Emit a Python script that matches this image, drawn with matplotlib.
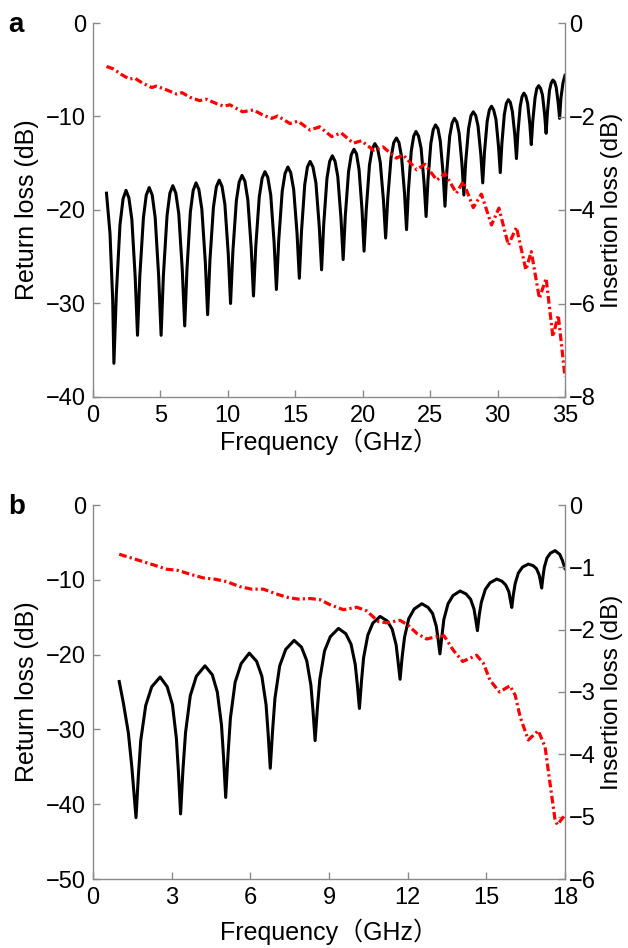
import matplotlib
matplotlib.use('Agg')
import matplotlib.pyplot as plt

# ---- panel a: return loss (left axis, dB) ----
freq_rl_a = [1.0, 1.26, 1.46, 1.55, 1.73, 2.0, 2.23, 2.45, 2.66, 2.88, 3.13,
             3.3, 3.47, 3.74, 3.95, 4.17, 4.39, 4.61, 4.87,
             5.05, 5.22, 5.49, 5.7, 5.92, 6.14, 6.36, 6.62,
             6.8, 6.97, 7.22, 7.43, 7.64, 7.85, 8.07, 8.33,
             8.5, 8.67, 8.93, 9.15, 9.36, 9.57, 9.78, 10.03,
             10.2, 10.37, 10.63, 10.84, 11.05, 11.26, 11.48, 11.73,
             11.9, 12.07, 12.33, 12.54, 12.75, 12.96, 13.18, 13.43,
             13.6, 13.77, 14.03, 14.24, 14.45, 14.66, 14.88, 15.13,
             15.3, 15.46, 15.7, 15.9, 16.1, 16.31, 16.53, 16.78,
             16.95, 17.11, 17.35, 17.55, 17.75, 17.95, 18.15, 18.39,
             18.55, 18.71, 18.95, 19.15, 19.35, 19.54, 19.73, 19.95,
             20.1, 20.26, 20.5, 20.7, 20.9, 21.1, 21.3, 21.54,
             21.7, 21.86, 22.1, 22.3, 22.5, 22.69, 22.88, 23.1,
             23.25, 23.39, 23.6, 23.78, 23.95, 24.14, 24.33, 24.55,
             24.7, 24.84, 25.05, 25.23, 25.4, 25.58, 25.75, 25.96,
             26.1, 26.24, 26.45, 26.63, 26.8, 26.98, 27.15, 27.36,
             27.5, 27.64, 27.85, 28.03, 28.2, 28.38, 28.55, 28.76,
             28.9, 29.03, 29.23, 29.39, 29.55, 29.71, 29.88, 30.07,
             30.2, 30.32, 30.5, 30.65, 30.8, 30.95, 31.1, 31.28,
             31.4, 31.51, 31.68, 31.81, 31.95, 32.09, 32.23, 32.39,
             32.5, 32.61, 32.78, 32.91, 33.05, 33.19, 33.33, 33.49,
             33.6, 33.7, 33.85, 33.98, 34.1, 34.23, 34.35, 34.5,
             34.6, 34.7, 34.85, 35.0]
rl_a = [-18.2, -22.5, -29.6, -36.4, -29.0, -21.6, -18.8, -17.9, -18.7, -21.0, -27.2,
        -33.4, -27.1, -20.8, -18.4, -17.6, -18.4, -20.8, -27.1,
        -33.4, -27.0, -20.6, -18.2, -17.4, -18.2, -20.4, -26.4,
        -32.4, -26.3, -20.2, -17.9, -17.1, -17.8, -19.9, -25.6,
        -31.2, -25.4, -19.7, -17.5, -16.8, -17.5, -19.4, -24.7,
        -30.0, -24.5, -19.0, -17.0, -16.3, -16.9, -18.9, -24.0,
        -29.2, -23.9, -18.6, -16.6, -15.9, -16.5, -18.4, -23.5,
        -28.5, -23.3, -18.0, -16.1, -15.4, -16.0, -17.8, -22.5,
        -27.3, -22.3, -17.3, -15.4, -14.8, -15.4, -17.1, -21.8,
        -26.4, -21.5, -16.6, -14.8, -14.2, -14.8, -16.4, -20.9,
        -25.3, -20.6, -15.9, -14.1, -13.5, -14.0, -15.7, -20.0,
        -24.4, -20.0, -15.2, -13.5, -12.9, -13.4, -14.9, -19.0,
        -23.0, -18.7, -14.4, -12.8, -12.3, -12.8, -14.3, -18.2,
        -22.1, -17.9, -13.7, -12.1, -11.6, -12.1, -13.4, -17.1,
        -20.7, -16.8, -12.9, -11.4, -10.9, -11.3, -12.6, -16.1,
        -19.6, -15.8, -12.1, -10.7, -10.2, -10.6, -11.8, -15.1,
        -18.4, -14.8, -11.3, -9.9, -9.5, -9.9, -11.0, -14.1,
        -17.1, -13.8, -10.5, -9.3, -8.9, -9.3, -10.3, -13.2,
        -16.0, -12.9, -9.8, -8.6, -8.2, -8.5, -9.5, -12.0,
        -14.5, -11.7, -8.9, -7.9, -7.5, -7.8, -8.6, -10.8,
        -13.0, -10.5, -8.0, -7.0, -6.7, -7.0, -7.7, -9.8,
        -11.8, -9.5, -7.2, -6.4, -6.1, -6.3, -6.9, -8.6,
        -10.2, -8.0, -6.4, -5.6]

# ---- panel a: insertion loss (right axis, dB) ----
freq_il_a = [1.0, 1.5, 2.1, 2.7, 3.1, 3.7, 4.35, 4.7, 5.45, 6.2, 6.6, 7.2,
             7.9, 8.4, 9.2, 9.7, 10.15, 11.1, 11.9, 12.6, 13.25, 13.7,
             14.6, 15.2, 16.1, 16.8, 17.7, 18.4, 19.3, 19.9, 20.8, 21.5,
             22.5, 23.0, 24.0, 24.6, 25.5, 26.1, 26.95, 27.45, 28.2, 28.8,
             29.55, 30.1, 30.8, 31.4, 32.1, 32.5, 33.1, 33.6, 34.1, 34.5, 35.0]
il_a = [-0.93, -0.98, -1.10, -1.20, -1.18, -1.29, -1.38, -1.35, -1.43, -1.52,
        -1.49, -1.59, -1.66, -1.63, -1.73, -1.78, -1.75, -1.90, -1.86, -1.97,
        -2.04, -1.99, -2.15, -2.10, -2.29, -2.22, -2.43, -2.35, -2.57, -2.52,
        -2.72, -2.65, -2.89, -2.82, -3.14, -3.02, -3.36, -3.22, -3.64, -3.39,
        -3.95, -3.66, -4.32, -3.96, -4.75, -4.37, -5.28, -4.89, -5.89, -5.46,
        -6.71, -6.25, -7.57]

# ---- panel b: return loss ----
freq_rl_b = [1.0, 1.16, 1.35, 1.48,
             1.64, 1.73, 1.82, 2.01, 2.24, 2.56, 2.83, 3.03, 3.18, 3.26,
             3.34, 3.43, 3.53, 3.71, 3.94, 4.27, 4.55, 4.74, 4.9, 4.98,
             5.06, 5.15, 5.24, 5.42, 5.65, 5.96, 6.24, 6.44, 6.6, 6.68,
             6.76, 6.85, 6.94, 7.12, 7.35, 7.67, 7.95, 8.15, 8.31, 8.39,
             8.47, 8.56, 8.65, 8.83, 9.05, 9.36, 9.64, 9.84, 10.0, 10.08,
             10.16, 10.24, 10.32, 10.48, 10.67, 10.95, 11.22, 11.41, 11.56, 11.63,
             11.71, 11.79, 11.88, 12.04, 12.25, 12.54, 12.78, 12.95, 13.09, 13.16,
             13.23, 13.31, 13.38, 13.54, 13.73, 14.0, 14.23, 14.4, 14.53, 14.59,
             14.66, 14.73, 14.81, 14.96, 15.14, 15.4, 15.6, 15.74, 15.86, 15.91,
             15.97, 16.03, 16.1, 16.22, 16.38, 16.6, 16.78, 16.91, 17.01, 17.06,
             17.11, 17.16, 17.21, 17.31, 17.44, 17.62, 17.8, 17.9, 18.0]
rl_b = [-23.6, -26.5, -30.5, -35.0,
        -41.8, -36.2, -31.5, -26.8, -24.3, -23.0, -24.3, -26.7, -31.2, -35.8,
        -41.3, -35.4, -30.4, -25.5, -22.9, -21.5, -22.7, -25.0, -29.4, -33.8,
        -39.1, -33.3, -28.5, -23.7, -21.2, -19.8, -20.9, -22.9, -26.7, -30.6,
        -35.2, -30.1, -25.8, -21.5, -19.3, -18.1, -19.0, -20.8, -24.1, -27.5,
        -31.5, -27.0, -23.3, -19.5, -17.6, -16.5, -17.2, -18.6, -21.3, -24.0,
        -27.2, -23.5, -20.4, -17.4, -15.8, -14.9, -15.5, -16.6, -18.7, -20.8,
        -23.3, -20.3, -17.7, -15.2, -13.9, -13.2, -13.7, -14.5, -16.2, -17.9,
        -19.9, -17.4, -15.3, -13.2, -12.1, -11.5, -11.9, -12.6, -13.9, -15.2,
        -16.8, -14.7, -13.0, -11.3, -10.4, -9.9, -10.2, -10.7, -11.6, -12.6,
        -13.7, -12.0, -10.5, -9.1, -8.3, -7.9, -8.1, -8.5, -9.3, -10.1,
        -11.1, -9.6, -8.35, -7.1, -6.45, -6.1, -6.6, -7.4, -8.5]

# ---- panel b: insertion loss ----
freq_il_b = [1.0, 1.54, 2.3, 2.81, 3.25, 3.7, 4.21, 4.65, 5.1, 5.6, 6.05, 6.5,
             6.94, 7.39, 7.83, 8.28, 8.66, 9.04, 9.55, 10.06, 10.44, 10.88,
             11.2, 11.71, 12.02, 12.35, 12.73, 13.1, 13.39, 13.74, 14.1, 14.63,
             14.89, 15.14, 15.5, 15.9, 16.1, 16.29, 16.6, 16.98, 17.24, 17.43,
             17.62, 17.71, 18.0]
il_b = [-0.79, -0.86, -0.96, -1.03, -1.05, -1.11, -1.17, -1.19, -1.23, -1.31,
        -1.35, -1.35, -1.42, -1.48, -1.51, -1.50, -1.52, -1.60, -1.68, -1.64,
        -1.70, -1.87, -1.89, -1.85, -1.93, -2.06, -2.15, -2.11, -2.10, -2.33,
        -2.51, -2.41, -2.54, -2.81, -3.00, -2.90, -3.05, -3.40, -3.77, -3.62,
        -3.88, -4.47, -5.05, -5.13, -4.97]

FONT = ['Liberation Sans', 'Noto Sans CJK SC', 'DejaVu Sans']
plt.rcParams['font.family'] = FONT
GREY = '#8a8a8a'


def make_panel(rect, letter, freq_rl, rl, freq_il, il, xmax, xticks,
               ylim_l, yticks_l, ylim_r, yticks_r, xlab_y):
    ax = fig.add_axes(rect)
    axr = ax.twinx()
    ax.plot(freq_rl, rl, color='k', lw=2.2, solid_joinstyle='round')
    axr.plot(freq_il, il, color='#ff0000', lw=2.3,
             linestyle=(0, (2.4, 1.0, 0.7, 1.0)))

    ax.set_xlim(0, xmax)
    ax.set_xticks(xticks)
    ax.set_ylim(*ylim_l)
    ax.set_yticks(yticks_l)
    axr.set_ylim(*ylim_r)
    axr.set_yticks(yticks_r)

    for a in (ax, axr):
        a.spines['top'].set_visible(False)
        for s in a.spines.values():
            s.set_color(GREY)
            s.set_linewidth(1.0)
        a.tick_params(direction='in', length=5, color=GREY, labelsize=17,
                      labelcolor='k', width=1.0)
    ax.spines['right'].set_visible(False)
    axr.spines['left'].set_visible(False)
    axr.spines['bottom'].set_visible(False)
    ax.tick_params(axis='y', pad=5)
    axr.tick_params(axis='y', pad=3)
    ax.tick_params(axis='x', pad=6)

    ax.set_ylabel('Return loss (dB)', fontsize=18)
    ax.yaxis.set_label_coords(-0.115, 0.5)
    axr.set_ylabel('Insertion loss (dB)', fontsize=17.5)
    axr.yaxis.set_label_coords(1.077, 0.5)
    ax.set_xlabel('Frequency\uff08GHz\uff09', fontsize=18)
    ax.xaxis.set_label_coords(0.5, xlab_y)

    fig.text(8 / 628, rect[1] + rect[3] - 9 / 948, letter, fontsize=20,
             fontweight='bold', ha='left', va='baseline')
    return ax, axr


fig = plt.figure(figsize=(6.28, 9.48), dpi=100)

make_panel([93 / 628, 1 - 397 / 948, 472 / 628, 374 / 948], 'a',
           freq_rl_a, rl_a, freq_il_a, il_a, 35, [0, 5, 10, 15, 20, 25, 30, 35],
           (-40, 0), [-40, -30, -20, -10, 0], (-8, 0), [-8, -6, -4, -2, 0],
           -0.085)
make_panel([93 / 628, 1 - 879 / 948, 472 / 628, 374 / 948], 'b',
           freq_rl_b, rl_b, freq_il_b, il_b, 18, [0, 3, 6, 9, 12, 15, 18],
           (-50, 0), [-50, -40, -30, -20, -10, 0], (-6, 0),
           [-6, -5, -4, -3, -2, -1, 0], -0.105)

fig.savefig('out.png', dpi=100)
